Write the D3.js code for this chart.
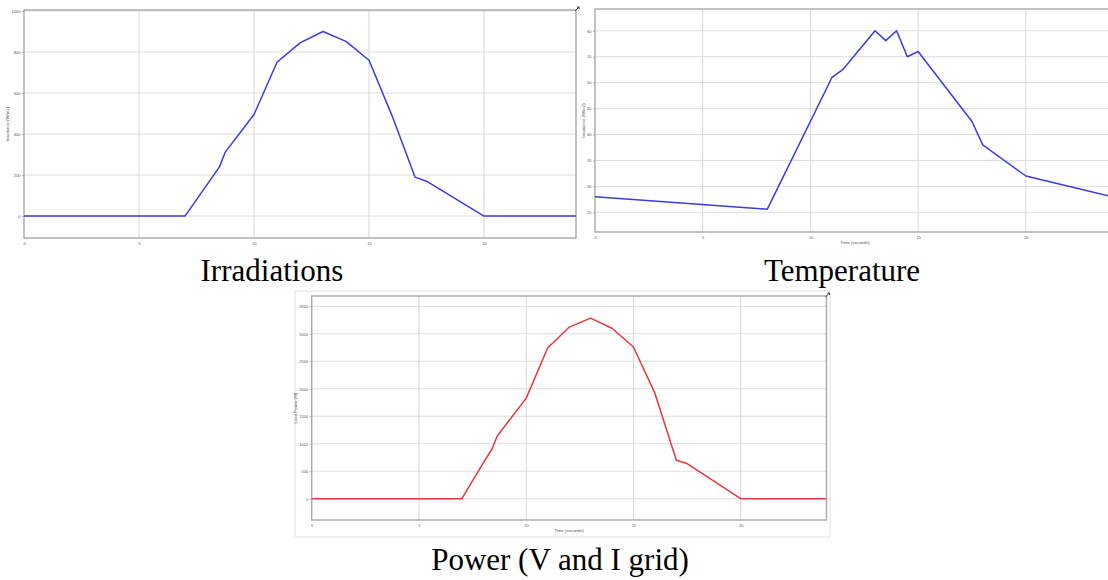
<!DOCTYPE html>
<html>
<head>
<meta charset="utf-8">
<script src="https://cdn.jsdelivr.net/npm/d3@7"></script>
<style>
    html, body { margin: 0; padding: 0; background: #fff; }
    svg { display: block; }
</style>
</head>
<body>
<svg id="chart" width="1108" height="580"></svg>
<script>
(function () {
    'use strict';

    // data
    var timeTicks = [0, 5, 10, 15, 20];

    var irrTime = [0, 7, 8.5, 8.75, 10, 11, 12, 13, 14, 15, 16, 17, 17.5, 20, 24];
    var irrValues = [0, 0, 240, 312, 495, 750, 845, 900, 852, 760, 490, 190, 170, 0, 0];
    var irrTicks = [0, 200, 400, 600, 800, 1000];

    var tempTime = [0, 8, 11, 11.5, 13, 13.5, 14, 14.5, 15, 17.5, 18, 20, 24];
    var tempValues = [28, 25.6, 51, 52.5, 60, 58.1, 60, 55, 56, 42.5, 38, 32, 28];
    var tempTicks = [25, 30, 35, 40, 45, 50, 55, 60];

    var powerTime = [0, 7, 8, 8.4, 8.65, 10, 11, 12, 13, 14, 15, 16, 17, 17.5, 20, 24];
    var powerValues = [0, 0, 650, 900, 1140, 1830, 2740, 3120, 3285, 3100, 2760, 1920, 700, 640, 0, 0];
    var powerTicks = [0, 500, 1000, 1500, 2000, 2500, 3000, 3500];

    var svg = d3.select('#chart');

    var GRID = '#dedede',
        BORDER = '#a9a9a9',
        LABEL = '#555';

    function drawPanel(opts) {
        var x = d3.scaleLinear().domain([0, 24]).range([opts.left, opts.right]);
        var y = d3.scaleLinear().domain(opts.yDomain).range([opts.bottom, opts.top]);

        var g = svg.append('g').attr('class', 'panel');

        if (opts.frame) {
            g.append('rect')
                .attr('x', opts.frame[0])
                .attr('y', opts.frame[1])
                .attr('width', opts.frame[2])
                .attr('height', opts.frame[3])
                .style('fill', 'none')
                .style('stroke', '#e2e2e2')
                .style('stroke-width', 1);
        }

        // grid
        g.selectAll('.hgrid')
            .data(opts.yTicks)
            .enter().append('line')
            .attr('x1', opts.left).attr('x2', opts.right)
            .attr('y1', function (d) { return y(d); })
            .attr('y2', function (d) { return y(d); })
            .style('stroke', GRID)
            .style('stroke-width', 1);

        g.selectAll('.vgrid')
            .data(timeTicks.slice(1))
            .enter().append('line')
            .attr('x1', function (d) { return x(d); })
            .attr('x2', function (d) { return x(d); })
            .attr('y1', opts.top).attr('y2', opts.bottom)
            .style('stroke', '#d6d6d6')
            .style('stroke-width', 1);

        // axes
        var yAxis = d3.axisLeft(y).tickValues(opts.yTicks).tickFormat(d3.format('d'))
            .tickSize(2).tickPadding(1.5);
        var xAxis = d3.axisBottom(x).tickValues(timeTicks).tickFormat(d3.format('d'))
            .tickSize(0).tickPadding(4);

        var ya = g.append('g')
            .attr('transform', 'translate(' + opts.left + ',0)')
            .call(yAxis);
        var xa = g.append('g')
            .attr('transform', 'translate(0,' + opts.bottom + ')')
            .call(xAxis);

        [ya, xa].forEach(function (a) {
            a.select('.domain').remove();
            a.selectAll('line').style('stroke', BORDER);
            a.selectAll('text')
                .style('font-family', 'Liberation Sans, Arial, sans-serif')
                .style('font-size', '4px')
                .style('fill', LABEL);
        });

        // box
        g.append('rect')
            .attr('x', opts.left)
            .attr('y', opts.top)
            .attr('width', opts.right - opts.left)
            .attr('height', opts.bottom - opts.top)
            .style('fill', 'none')
            .style('stroke', BORDER)
            .style('stroke-width', 1.4);

        // curve
        var line = d3.line()
            .x(function (d) { return x(d[0]); })
            .y(function (d) { return y(d[1]); });

        g.append('path')
            .datum(d3.zip(opts.time, opts.values))
            .attr('d', line)
            .style('fill', 'none')
            .style('stroke', opts.color)
            .style('stroke-width', 1.5)
            .style('stroke-linejoin', 'round');

        // axis titles
        g.append('text')
            .attr('transform', 'translate(' + opts.yLabelX + ',' + ((opts.top + opts.bottom) / 2) + ') rotate(-90)')
            .attr('text-anchor', 'middle')
            .style('font-family', 'Liberation Sans, Arial, sans-serif')
            .style('font-size', '4.3px')
            .style('fill', LABEL)
            .text(opts.yLabel);

        if (opts.xLabel) {
            g.append('text')
                .attr('x', opts.xLabelX)
                .attr('y', opts.bottom + 12)
                .attr('text-anchor', 'middle')
                .style('font-family', 'Liberation Sans, Arial, sans-serif')
                .style('font-size', '4.3px')
                .style('fill', LABEL)
                .text(opts.xLabel);
        }

        // little undock arrow at the top right corner of the axes
        g.append('path')
            .attr('transform', 'translate(' + (opts.right + 2) + ',' + (opts.top - 2) + ')')
            .attr('d', 'M-3,3 L1,-1 M-1,-1 L1,-1 L1,1')
            .style('fill', 'none')
            .style('stroke', '#333')
            .style('stroke-width', 1);

        // caption under the panel
        if (opts.caption) {
            svg.append('text')
                .attr('x', opts.caption[0])
                .attr('y', opts.caption[1])
                .attr('text-anchor', 'middle')
                .style('font-family', 'Liberation Serif, Times New Roman, serif')
                .style('font-size', '31px')
                .style('fill', '#000')
                .text(opts.caption[2]);
        }
    }

    drawPanel({
        left: 24, right: 576, top: 10, bottom: 238,
        yDomain: [-107, 1005], yTicks: irrTicks,
        time: irrTime, values: irrValues, color: '#3b3be0',
        yLabel: 'Irradiance (W/m2)', yLabelX: 9,
        caption: [272, 281, 'Irradiations']
    });

    drawPanel({
        left: 595, right: 1112, top: 9, bottom: 232,
        yDomain: [21.2, 64.2], yTicks: tempTicks,
        time: tempTime, values: tempValues, color: '#3b3be0',
        yLabel: 'Irradiance (W/m2)', yLabelX: 585,
        xLabel: 'Time (seconds)', xLabelX: 855,
        caption: [842, 281, 'Temperature']
    });

    drawPanel({
        left: 311.7, right: 826.5, top: 296, bottom: 520,
        yDomain: [-387, 3687], yTicks: powerTicks,
        time: powerTime, values: powerValues, color: '#e8383d',
        yLabel: 'Load Power (W)', yLabelX: 297,
        xLabel: 'Time (seconds)', xLabelX: 569,
        frame: [295, 291, 535, 246],
        caption: [560, 570, 'Power (V and I grid)']
    });
})();
</script>
</body>
</html>
